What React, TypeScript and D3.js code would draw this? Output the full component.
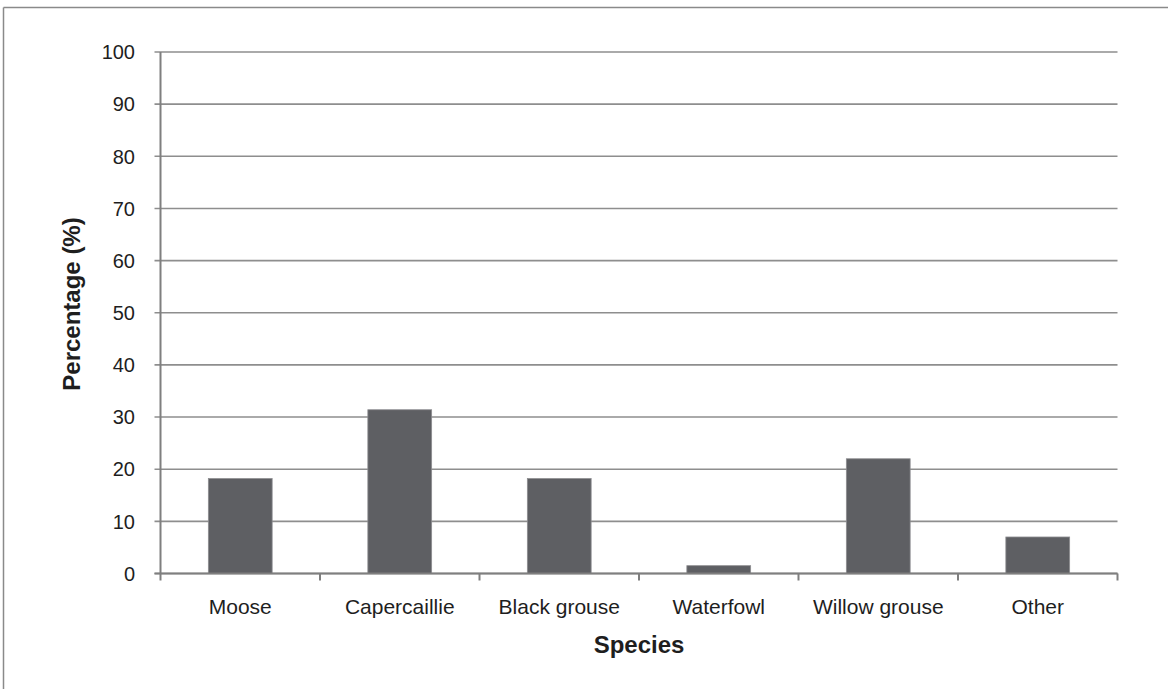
import React from "react";
import * as d3 from "d3";

const categories = ["Moose", "Capercaillie", "Black grouse", "Waterfowl", "Willow grouse", "Other"];
const values = [18.2, 31.4, 18.2, 1.5, 22.0, 7.0];
const yTicks = [0, 10, 20, 30, 40, 50, 60, 70, 80, 90, 100];
const yTitle = "Percentage (%)";
const xTitle = "Species";

const W = 1168;
const H = 689;
const plot = { left: 160.5, right: 1117.5, top: 52, bottom: 573.5 };
const FONT = "'Liberation Sans', Arial, sans-serif";

export default function App() {
  const x = d3.scaleBand<string>().domain(categories).range([plot.left, plot.right]).paddingInner(0.6).paddingOuter(0.3);
  const xb = d3.scaleBand<string>().domain(categories).range([plot.left, plot.right]);
  const y = d3.scaleLinear().domain([0, 100]).range([plot.bottom, plot.top]);

  return (
    <svg width={W} height={H} style={{ position: "absolute", left: 0, top: 0, background: "#fff" }}>
      <rect x={0} y={0} width={W} height={H} fill="#fff" />
      {/* outer border (top and left visible) */}
      <line x1={3.5} x2={W} y1={7.5} y2={7.5} stroke="#8a8a8a" strokeWidth={1.5} />
      <line x1={3.5} x2={3.5} y1={7.5} y2={H} stroke="#8a8a8a" strokeWidth={1.5} />

      {/* gridlines */}
      {yTicks.map((t) => (
        <line key={"g" + t} x1={plot.left - 6} x2={plot.right} y1={y(t)} y2={y(t)} stroke="#8e8e8e" strokeWidth={1.6} />
      ))}
      {/* y tick labels */}
      {yTicks.map((t) => (
        <text key={"t" + t} x={135} y={y(t)} dy="0.36em" textAnchor="end" fontFamily={FONT} fontSize={20} fill="#1e1e1e">
          {t}
        </text>
      ))}

      {/* bars */}
      {categories.map((c, i) => (
        <rect
          key={c}
          x={x(c)}
          y={y(values[i])}
          width={x.bandwidth()}
          height={y(0) - y(values[i])}
          fill="#5e5f63"
          stroke="#8d8d90"
          strokeWidth={0.8}
        />
      ))}

      {/* axes */}
      <line x1={plot.left} x2={plot.left} y1={plot.top} y2={plot.bottom} stroke="#7f7f7f" strokeWidth={2} />
      <line x1={plot.left - 6} x2={plot.right} y1={plot.bottom} y2={plot.bottom} stroke="#7f7f7f" strokeWidth={2} />
      {[...categories.map((c) => xb(c) as number), plot.right].map((px, i) => (
        <line key={"xt" + i} x1={px} x2={px} y1={plot.bottom} y2={plot.bottom + 7} stroke="#7f7f7f" strokeWidth={2} />
      ))}

      {/* category labels */}
      {categories.map((c) => (
        <text key={"c" + c} x={(xb(c) as number) + xb.bandwidth() / 2} y={614} textAnchor="middle" fontFamily={FONT} fontSize={21} fill="#1e1e1e">
          {c}
        </text>
      ))}

      {/* axis titles */}
      <text x={(plot.left + plot.right) / 2} y={653} textAnchor="middle" fontFamily={FONT} fontSize={24} fontWeight="bold" fill="#1e1e1e">
        {xTitle}
      </text>
      <text
        transform={`translate(80, 304) rotate(-90)`}
        textAnchor="middle"
        fontFamily={FONT}
        fontSize={24}
        fontWeight="bold"
        fill="#1e1e1e"
      >
        {yTitle}
      </text>
    </svg>
  );
}
